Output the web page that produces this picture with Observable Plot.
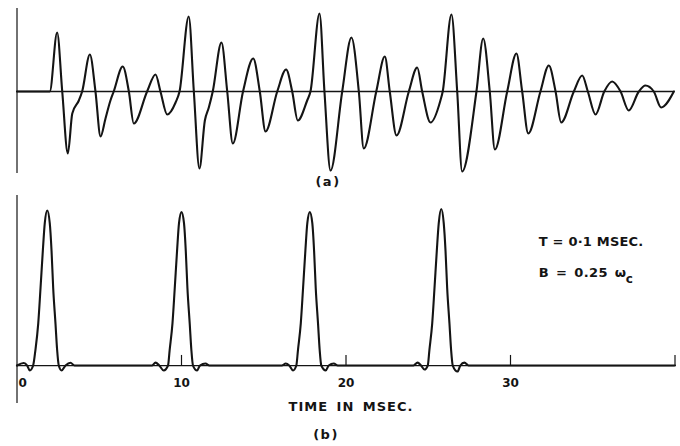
<!DOCTYPE html>
<html>
<head>
<meta charset="utf-8">
<script src="https://cdn.jsdelivr.net/npm/d3@7"></script>
<script src="https://cdn.jsdelivr.net/npm/@observablehq/plot@0.6"></script>
<style>
  body { margin: 0; background: #fff; }
  #chart { position: relative; width: 680px; height: 446px; background: #fff; }
  #chart svg { display: block; }
</style>
</head>
<body>
<div id="chart"></div>
<script>
// ---- Panel (a): response waveform (time in msec, amplitude arbitrary) ----
const aTime = [0, 1.99, 2.44, 2.75, 3.09, 3.36, 3.76, 3.96, 4.43, 4.77, 5.08, 5.38, 5.68, 5.88, 6.43, 6.80, 7.10, 7.91, 8.42, 8.72, 9.13, 9.64, 9.88,
  10.44, 10.75, 11.09, 11.42, 11.66, 11.90, 12.43, 12.78, 13.12, 13.74, 14.36, 14.76, 15.11, 15.82, 16.36, 16.73, 17.07, 17.64, 17.84,
  18.39, 18.69, 19.06, 19.77, 20.33, 20.78, 21.08, 21.84, 22.36, 22.66, 23.07, 23.82, 24.33, 24.63, 25.14, 25.74, 25.88,
  26.41, 26.76, 27.06, 27.93, 28.34, 28.74, 29.05, 29.80, 30.36, 30.71, 31.08, 31.82, 32.33, 32.74, 33.08, 33.85, 34.36, 34.70,
  35.17, 35.70, 36.18, 36.69, 37.19, 37.80, 38.20, 38.71, 39.16, 39.93];
const aValue = [0, 0, 0.59, 0, -0.62, -0.22, -0.09, 0, 0.37, 0, -0.45, -0.27, -0.09, 0, 0.25, 0, -0.32, 0, 0.17, 0, -0.23, -0.11, 0,
  0.75, 0, -0.77, -0.29, -0.16, 0, 0.49, 0, -0.52, 0, 0.33, 0, -0.40, 0, 0.22, 0, -0.29, -0.09, 0,
  0.78, 0, -0.79, 0, 0.54, 0, -0.57, 0, 0.35, 0, -0.44, 0, 0.24, 0, -0.31, -0.09, 0,
  0.77, 0, -0.80, 0, 0.53, 0, -0.58, 0, 0.38, 0, -0.42, 0, 0.26, 0, -0.31, 0, 0.16, 0,
  -0.23, 0, 0.10, 0, -0.19, 0, 0.06, 0, -0.16, 0];

// ---- Panel (b): pulse train (time in msec, normalised amplitude) ----
const bTime = [0, 0.41, 0.62, 0.78, 0.98, 1.12, 1.29, 1.43, 1.57, 1.69, 1.84, 1.99, 2.10, 2.20, 2.34, 2.44, 2.54, 2.71, 2.95, 3.25, 3.50,
  8.20, 8.42, 8.65, 8.92, 9.18, 9.28, 9.45, 9.59, 9.73, 9.85, 10.00, 10.15, 10.26, 10.36, 10.50, 10.60, 10.70, 10.95, 11.12, 11.46, 11.70,
  16.10, 16.34, 16.55, 16.78, 16.98, 17.08, 17.25, 17.39, 17.53, 17.65, 17.80, 17.95, 18.06, 18.16, 18.30, 18.40, 18.50, 18.77, 18.95, 19.26, 19.50,
  24.10, 24.35, 24.56, 24.77, 24.97, 25.07, 25.24, 25.38, 25.52, 25.64, 25.79, 25.94, 26.05, 26.15, 26.29, 26.39, 26.49, 26.78, 26.95, 27.20, 27.45,
  40];
const bValue = [0, 0.016, 0, -0.032, 0, 0.10, 0.27, 0.50, 0.74, 0.92, 1.00, 0.92, 0.74, 0.50, 0.27, 0.10, 0, -0.032, 0, 0.018, 0,
  0, 0.019, 0, -0.032, 0, 0.10, 0.27, 0.50, 0.74, 0.92, 0.99, 0.92, 0.74, 0.50, 0.27, 0.10, 0, -0.032, 0, 0.013, 0,
  0, 0.013, 0, -0.032, 0, 0.10, 0.27, 0.50, 0.74, 0.92, 0.99, 0.92, 0.74, 0.50, 0.27, 0.10, 0, -0.032, 0, 0.013, 0,
  0, 0.019, 0, -0.026, 0, 0.10, 0.27, 0.50, 0.74, 0.92, 1.01, 0.92, 0.74, 0.50, 0.27, 0.10, 0, -0.039, 0, 0.019, 0,
  0];

// ---- Axis ticks and labels ----
const tickMarks = [10, 20, 30, 40];
const tickLabelValues = [10, 20, 30];
const zeroLabel = [0];
const xLabel = "TIME IN MSEC.";
const panelALabel = "(a)";
const panelBLabel = "(b)";
const noteLines = ["T = 0·1 MSEC.", "B = 0.25 ω"];
const noteX = [31.72, 31.72];
const noteY = [0.795, 0.60];
const noteSub = ["c"];
const noteSubX = [37.0];
const noteSubY = [0.56];

const ink = "#141414";
const font = "DejaVu Sans";

const aData = aTime.map((t, i) => ({t, v: aValue[i]}));
const bData = bTime.map((t, i) => ({t, v: bValue[i]}));
const notes = noteLines.map((s, i) => ({s, x: noteX[i], y: noteY[i]}));
const subs = noteSub.map((s, i) => ({s, x: noteSubX[i], y: noteSubY[i]}));

const common = {
  width: 680,
  marginLeft: 16.5,
  marginRight: 5.5,
  x: {domain: [0, 40], axis: null},
  style: {background: "transparent", color: ink, fontFamily: font, overflow: "visible"}
};

const plotA = Plot.plot({
  ...common,
  height: 190,
  marginTop: 8,
  marginBottom: 17,
  y: {domain: [-0.82, 0.83], axis: null},
  marks: [
    Plot.ruleY([0], {stroke: ink, strokeWidth: 1.3}),
    Plot.ruleX([0], {stroke: ink, strokeWidth: 1.2}),
    Plot.line(aData, {x: "t", y: "v", stroke: ink, strokeWidth: 2.1, curve: "monotone-x"}),
    Plot.text([panelALabel], {frameAnchor: "bottom", dy: 12, dx: -18, text: d => d, fontSize: 13, fill: ink, fontWeight: "bold"})
  ]
});

const plotB = Plot.plot({
  ...common,
  height: 256,
  marginTop: 5,
  marginBottom: 43,
  y: {domain: [-0.245, 1.097], axis: null},
  marks: [
    Plot.ruleY([0], {stroke: ink, strokeWidth: 1.3}),
    Plot.ruleX([0], {stroke: ink, strokeWidth: 1.2}),
    Plot.ruleX(tickMarks, {x: d => d, y1: 0, y2: 0.065, stroke: ink, strokeWidth: 1.2}),
    Plot.line(bData, {x: "t", y: "v", stroke: ink, strokeWidth: 2.1, curve: "monotone-x"}),
    Plot.text(tickLabelValues, {x: d => d, y: 0, dy: 18, text: d => String(d), fontSize: 12, fill: ink, fontWeight: "bold"}),
    Plot.text(zeroLabel, {x: d => d, y: 0, dy: 18, dx: 1.5, textAnchor: "start", text: d => String(d), fontSize: 12, fill: ink, fontWeight: "bold"}),
    Plot.text(notes, {x: "x", y: "y", text: "s", textAnchor: "start", fontSize: 13, fill: ink, fontWeight: "bold"}),
    Plot.text(subs, {x: "x", y: "y", text: "s", textAnchor: "start", fontSize: 12, fill: ink, fontWeight: "bold"}),
    Plot.text([xLabel], {frameAnchor: "bottom", dy: 7, dx: 5, text: d => d, fontSize: 13, fill: ink, fontWeight: "bold"}),
    Plot.text([panelBLabel], {frameAnchor: "bottom", dy: 35, dx: -20, text: d => d, fontSize: 13, fill: ink, fontWeight: "bold"})
  ]
});

// letter spacing to mimic the stencil lettering
d3.select(plotA).selectAll("text").style("letter-spacing", "1.5px");
d3.select(plotB).selectAll("text").each(function() {
  const s = this.textContent;
  if (s === xLabel) d3.select(this).style("letter-spacing", "1px").style("word-spacing", "3px");
  else if (s === panelBLabel) d3.select(this).style("letter-spacing", "1.5px");
  else if (s === noteLines[0]) d3.select(this).style("letter-spacing", "0.2px");
  else if (s === noteLines[1]) d3.select(this).style("letter-spacing", "0.4px").style("word-spacing", "2px");
});

const chart = document.getElementById("chart");
chart.appendChild(plotA);
chart.appendChild(plotB);
</script>
</body>
</html>
